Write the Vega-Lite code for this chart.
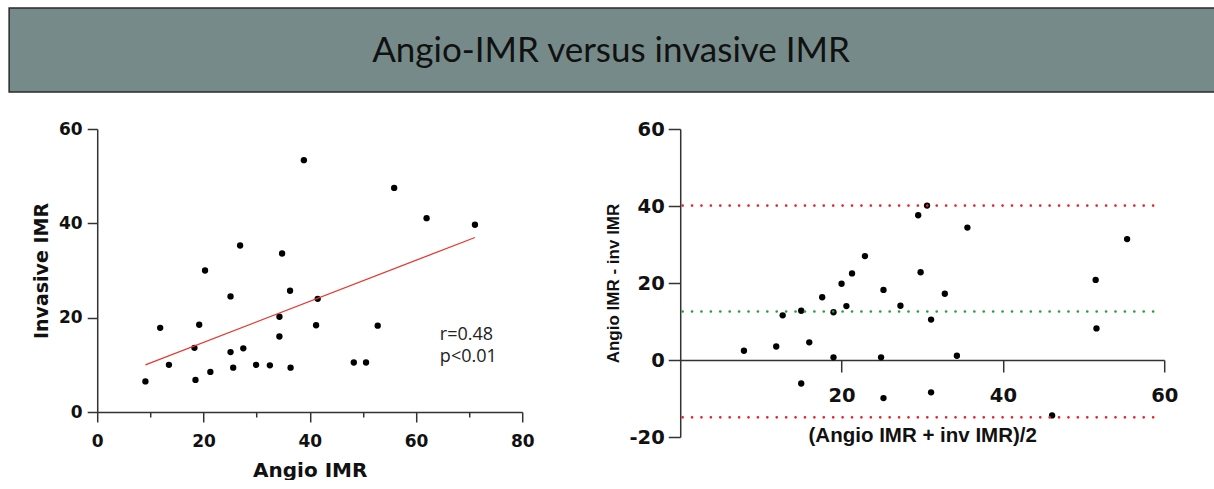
{
  "$schema": "https://vega.github.io/schema/vega-lite/v6.json",
  "background": "white",
  "padding": {"left": 8, "top": 7, "right": 0, "bottom": 0},
  "config": {"view": {"stroke": null}, "font": "Liberation Sans"},
  "datasets": {
    "left": [
      {"a": 9.07, "b": 6.49}, {"a": 11.85, "b": 17.84}, {"a": 13.5, "b": 10.0}, {"a": 18.3, "b": 13.6},
      {"a": 18.5, "b": 6.8}, {"a": 19.2, "b": 18.5}, {"a": 20.3, "b": 30.0}, {"a": 21.3, "b": 8.5},
      {"a": 25.1, "b": 24.5}, {"a": 25.1, "b": 12.7}, {"a": 25.6, "b": 9.4}, {"a": 26.9, "b": 35.3},
      {"a": 27.5, "b": 13.5}, {"a": 29.9, "b": 10.0}, {"a": 32.5, "b": 9.9}, {"a": 34.3, "b": 20.2},
      {"a": 34.3, "b": 16.0}, {"a": 34.8, "b": 33.6}, {"a": 36.3, "b": 25.7}, {"a": 36.4, "b": 9.4},
      {"a": 38.9, "b": 53.4}, {"a": 41.2, "b": 18.4}, {"a": 41.5, "b": 24.0}, {"a": 48.3, "b": 10.5},
      {"a": 50.6, "b": 10.5}, {"a": 52.8, "b": 18.3}, {"a": 55.9, "b": 47.5}, {"a": 62.0, "b": 41.1},
      {"a": 71.1, "b": 39.7}
    ],
    "fit": [{"a": 9.07, "b": 10.0}, {"a": 71.1, "b": 37.0}],
    "stats": [{"a": 64.5, "b": 16.3, "t": "r=0.48"}, {"a": 64.5, "b": 11.7, "t": "p<0.01"}],
    "ba": [
      {"m": 7.9, "d": 2.4}, {"m": 11.9, "d": 3.5}, {"m": 12.7, "d": 11.6}, {"m": 15.0, "d": 12.8},
      {"m": 15.0, "d": -6.1}, {"m": 16.0, "d": 4.6}, {"m": 17.6, "d": 16.3}, {"m": 19.0, "d": 12.4},
      {"m": 19.0, "d": 0.7}, {"m": 20.0, "d": 19.8}, {"m": 20.6, "d": 14.0}, {"m": 21.3, "d": 22.5},
      {"m": 22.9, "d": 27.0}, {"m": 24.9, "d": 0.7}, {"m": 25.2, "d": 18.2}, {"m": 25.2, "d": -9.9},
      {"m": 27.3, "d": 14.1}, {"m": 29.5, "d": 37.6}, {"m": 29.8, "d": 22.8}, {"m": 30.6, "d": 40.1},
      {"m": 31.1, "d": 10.5}, {"m": 31.1, "d": -8.4}, {"m": 32.8, "d": 17.2}, {"m": 34.3, "d": 1.1},
      {"m": 35.6, "d": 34.4}, {"m": 46.1, "d": -14.4}, {"m": 51.5, "d": 20.8}, {"m": 51.6, "d": 8.2},
      {"m": 55.4, "d": 31.4}
    ],
    "limits": [
      {"x1": 0.3, "x2": 59.1, "d": 40.1, "k": "loa"},
      {"x1": 0.3, "x2": 59.1, "d": 12.6, "k": "mean"},
      {"x1": 0.3, "x2": 59.1, "d": -14.9, "k": "loa"}
    ]
  },
  "spacing": 26,
  "center": true,
  "vconcat": [
    {
      "width": 1256,
      "height": 84,
      "view": {"fill": "#768b89", "stroke": "#2a2a2a", "strokeWidth": 1.5},
      "data": {"values": [{"t": "Angio-IMR versus invasive IMR"}]},
      "mark": {"type": "text", "font": "Lato", "fontSize": 35, "color": "#111111", "baseline": "middle", "align": "center", "dy": 1, "dx": -26},
      "encoding": {"text": {"field": "t", "type": "nominal"}}
    },
    {
      "spacing": 70,
      "hconcat": [
        {
          "width": 425,
          "height": 283,
          "resolve": {"axis": {"x": "independent"}},
          "layer": [
            {
              "data": {"name": "left"},
              "mark": {"type": "circle", "size": 40, "color": "black", "opacity": 1},
              "encoding": {
                "x": {"field": "a", "type": "quantitative",
                  "scale": {"domain": [0, 80], "nice": false, "zero": false},
                  "axis": {"values": [0, 20, 40, 60, 80], "title": "Angio IMR", "grid": false,
                    "tickSize": 10, "labelPadding": 11, "labelFont": "DejaVu Sans", "labelFontSize": 17, "labelFontWeight": "bold",
                    "titleFont": "DejaVu Sans", "titleFontSize": 20, "titleFontWeight": "bold", "titlePadding": 11,
                    "domainColor": "#333333", "tickColor": "#333333", "domainWidth": 1.5, "tickWidth": 1.5,
                    "labelColor": "#111111", "titleColor": "#111111", "labelFlush": false}},
                "y": {"field": "b", "type": "quantitative",
                  "scale": {"domain": [0, 60], "nice": false},
                  "axis": {"values": [0, 20, 40, 60], "title": "Invasive  IMR", "grid": false,
                    "tickSize": 10, "labelPadding": 5, "labelFont": "DejaVu Sans", "labelFontSize": 17, "labelFontWeight": "bold",
                    "titleFont": "DejaVu Sans", "titleFontSize": 19, "titleFontWeight": "bold", "titlePadding": 7,
                    "domainColor": "#333333", "tickColor": "#333333", "domainWidth": 1.5, "tickWidth": 1.5,
                    "labelColor": "#111111", "titleColor": "#111111", "labelFlush": false}}
              }
            },
            {
              "data": {"name": "fit"},
              "mark": {"type": "line", "color": "#e53a33", "strokeWidth": 1.3},
              "encoding": {
                "x": {"field": "a", "type": "quantitative",
                  "axis": {"orient": "bottom", "values": [10, 30, 50, 70], "labels": false, "domain": false,
                    "tickSize": 5, "tickColor": "#333333", "tickWidth": 1.5, "title": null, "grid": false}},
                "y": {"field": "b", "type": "quantitative"}
              }
            },
            {
              "data": {"name": "stats"},
              "mark": {"type": "text", "align": "left", "baseline": "middle", "font": "Open Sans", "fontSize": 18, "color": "#222222"},
              "encoding": {
                "x": {"field": "a", "type": "quantitative", "axis": null},
                "y": {"field": "b", "type": "quantitative"},
                "text": {"field": "t", "type": "nominal"}
              }
            }
          ]
        },
        {
          "width": 484,
          "height": 308,
          "layer": [
            {
              "data": {"name": "ba"},
              "mark": {"type": "circle", "size": 40, "color": "black", "opacity": 1},
              "encoding": {
                "x": {"field": "m", "type": "quantitative",
                  "scale": {"domain": [0, 60], "nice": false, "zero": false},
                  "axis": {"values": [20, 40, 60], "offset": -77, "title": "(Angio IMR + inv IMR)/2", "grid": false,
                    "tickSize": 12, "labelPadding": 14, "labelFont": "DejaVu Sans", "labelFontSize": 19.5, "labelFontWeight": "bold",
                    "titleFont": "Liberation Sans", "titleFontSize": 20.5, "titleFontWeight": "bold", "titlePadding": 21,
                    "domainColor": "#333333", "tickColor": "#333333", "domainWidth": 1.5, "tickWidth": 1.5,
                    "labelColor": "#111111", "titleColor": "#111111", "labelFlush": false}},
                "y": {"field": "d", "type": "quantitative",
                  "scale": {"domain": [-20, 60], "nice": false},
                  "axis": {"values": [-20, 0, 20, 40, 60], "title": "Angio IMR - inv IMR", "grid": false,
                    "labelExpr": "datum.value < 0 ? '-' + abs(datum.value) : '' + datum.value",
                    "tickSize": 12, "labelPadding": 4, "labelFont": "DejaVu Sans", "labelFontSize": 19.5, "labelFontWeight": "bold",
                    "titleFont": "Liberation Sans", "titleFontSize": 17, "titleFontWeight": "bold", "titlePadding": 6,
                    "domainColor": "#333333", "tickColor": "#333333", "domainWidth": 1.5, "tickWidth": 1.5,
                    "labelColor": "#111111", "titleColor": "#111111", "labelFlush": false}}
              }
            },
            {
              "data": {"name": "limits"},
              "mark": {"type": "rule", "strokeWidth": 2.7, "strokeDash": [0.01, 9.4], "strokeCap": "round"},
              "encoding": {
                "x": {"field": "x1", "type": "quantitative"},
                "x2": {"field": "x2"},
                "y": {"field": "d", "type": "quantitative"},
                "color": {"field": "k", "type": "nominal",
                  "scale": {"domain": ["loa", "mean"], "range": ["#e8232b", "#22a040"]}, "legend": null}
              }
            }
          ]
        }
      ]
    }
  ]
}
